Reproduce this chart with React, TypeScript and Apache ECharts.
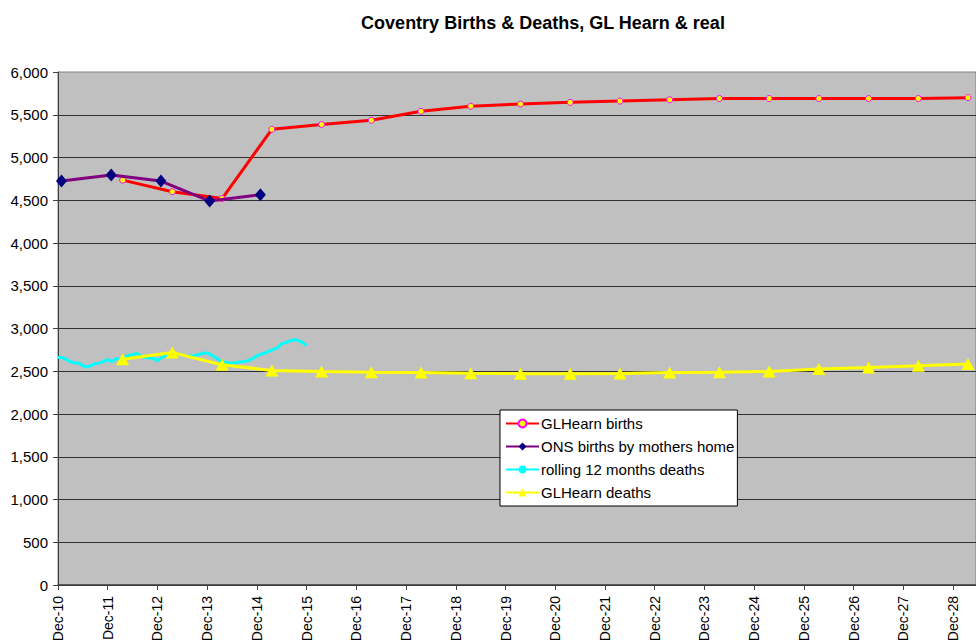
import React, { useEffect, useRef } from "react";
import * as echarts from "echarts";

// x positions are in years after Dec-10
const yearTicks = ["Dec-10","Dec-11","Dec-12","Dec-13","Dec-14","Dec-15","Dec-16","Dec-17","Dec-18","Dec-19","Dec-20","Dec-21","Dec-22","Dec-23","Dec-24","Dec-25","Dec-26","Dec-27","Dec-28"];

const glBirthsX = [1.3,2.3,3.3,4.3,5.3,6.3,7.3,8.3,9.3,10.3,11.3,12.3,13.3,14.3,15.3,16.3,17.3,18.3];
const glBirths = [4735,4600,4520,5330,5385,5435,5540,5600,5625,5645,5660,5675,5690,5690,5690,5690,5690,5700];

const onsBirthsX = [0.07,1.07,2.07,3.05,4.07];
const onsBirths = [4725,4795,4725,4490,4565];

const rollingDeaths = [
  2660,2660,2640,2610,2600,2595,2565,2548,2570,2590,2595,2615,
  2635,2612,2650,2635,2660,2685,2695,2708,2680,2660,2655,2650,
  2625,2660,2680,2695,2705,2700,2690,2680,2675,2685,2695,2710,
  2715,2690,2660,2625,2610,2600,2595,2600,2610,2615,2625,2650,
  2680,2700,2715,2735,2755,2775,2825,2835,2855,2870,2860,2835,
  2800
];

const glDeathsX = [1.3,2.3,3.3,4.3,5.3,6.3,7.3,8.3,9.3,10.3,11.3,12.3,13.3,14.3,15.3,16.3,17.3,18.3];
const glDeaths = [2640,2720,2575,2510,2497,2488,2485,2478,2472,2470,2475,2485,2487,2497,2525,2545,2565,2585];

const FONT = "'Liberation Sans', Arial, sans-serif";

export default function App() {
  const ref = useRef<HTMLDivElement>(null);
  useEffect(() => {
    if (!ref.current) return;
    const chart = echarts.init(ref.current, null, { renderer: "svg" });
    const pairs = (xs: number[], ys: number[]) => xs.map((x, i) => [x, ys[i]]);
    chart.setOption({
      animation: false,
      backgroundColor: "#ffffff",
      textStyle: { fontFamily: FONT },
      title: {
        text: "Coventry Births & Deaths, GL Hearn & real",
        left: 538,
        top: 9,
        textAlign: "center",
        textStyle: { fontFamily: FONT, fontSize: 18, fontWeight: "bold", color: "#000" },
      },
      legend: {
        orient: "vertical",
        left: 500,
        top: 410,
        padding: [6, 3, 6, 5],
        itemGap: 8,
        itemWidth: 33,
        itemHeight: 10,
        backgroundColor: "#ffffff",
        borderColor: "#000000",
        borderWidth: 1,
        borderRadius: 0,
        textStyle: { fontFamily: FONT, fontSize: 15, color: "#000", padding: [0, 0, 0, -3] },
        data: ["GLHearn births", "ONS births by mothers home", "rolling 12 months deaths", "GLHearn deaths"],
      },
      grid: {
        left: 58,
        top: 72,
        right: 0,
        bottom: 59,
        show: true,
        backgroundColor: "#C0C0C0",
        borderColor: "#808080",
        borderWidth: 1,
        containLabel: false,
        outerBoundsMode: "none",
      },
      xAxis: {
        type: "value",
        min: 0,
        max: 18.46,
        interval: 1,
        axisLine: { show: true, onZero: false, lineStyle: { color: "#404040", width: 1.5 } },
        axisTick: { show: true, length: 5, lineStyle: { color: "#404040" } },
        splitLine: { show: false },
        axisLabel: {
          rotate: 90,
          fontFamily: FONT,
          fontSize: 14,
          color: "#000",
          margin: 11,
          showMaxLabel: false,
          formatter: (v: number) => {
            const i = Math.round(v);
            return Math.abs(v - i) < 1e-6 && yearTicks[i] ? yearTicks[i] : "";
          },
        },
      },
      yAxis: {
        type: "value",
        min: 0,
        max: 6000,
        interval: 500,
        axisLine: { show: true, lineStyle: { color: "#404040", width: 1 } },
        axisTick: { show: true, length: 5, lineStyle: { color: "#404040" } },
        splitLine: { show: true, showMaxLine: false, lineStyle: { color: "#303030", width: 1 } },
        axisLabel: {
          fontFamily: FONT,
          fontSize: 15,
          color: "#000",
          margin: 10,
          formatter: (v: number) => v.toLocaleString("en-US"),
        },
      },
      series: [
        {
          name: "GLHearn births",
          type: "line",
          data: pairs(glBirthsX, glBirths),
          lineStyle: { color: "#FF0000", width: 3 },
          itemStyle: { color: "#FFFF00", borderColor: "#FF00FF", borderWidth: 1 },
          symbol: "circle",
          symbolSize: 6,
          z: 3,
        },
        {
          name: "ONS births by mothers home",
          type: "line",
          data: pairs(onsBirthsX, onsBirths),
          lineStyle: { color: "#800080", width: 3 },
          itemStyle: { color: "#000080", borderColor: "#000080", borderWidth: 0 },
          symbol: "diamond",
          symbolSize: [11, 13],
          z: 4,
        },
        {
          name: "rolling 12 months deaths",
          type: "line",
          data: rollingDeaths.map((v, i) => [i / 12, v]),
          lineStyle: { color: "#00FFFF", width: 3 },
          itemStyle: { color: "#00FFFF" },
          symbol: "none",
          showSymbol: false,
          z: 2,
        },
        {
          name: "GLHearn deaths",
          type: "line",
          data: pairs(glDeathsX, glDeaths),
          lineStyle: { color: "#FFFF00", width: 3 },
          itemStyle: { color: "#FFFF00" },
          symbol: "triangle",
          symbolSize: [13, 12],
          z: 3,
        },
      ],
    });
    return () => chart.dispose();
  }, []);
  return (
    <div
      ref={ref}
      style={{ position: "fixed", left: 0, top: 0, width: 976, height: 644 }}
    />
  );
}
